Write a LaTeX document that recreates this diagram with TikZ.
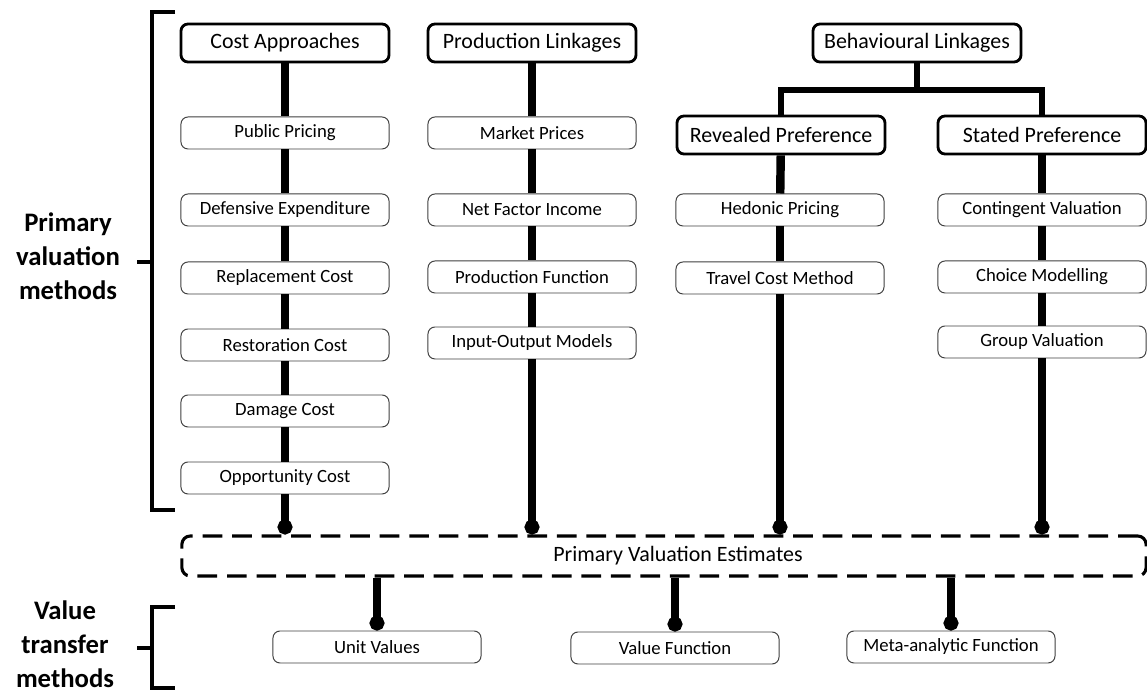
\documentclass[tikz,border=0pt]{standalone}
\usepackage{fontspec}
\setmainfont{Carlito}
\usetikzlibrary{arrows.meta}
\tikzset{
    HB/.style ={rectangle,rounded corners=5pt,minimum width=5.2cm,minimum height=0.95cm,draw,line width=2pt,fill=white,inner sep=0pt,font=\fontsize{15.6}{18}\selectfont},
    SB/.style ={rectangle,rounded corners=5pt,minimum width=5.2cm,minimum height=0.8cm,draw=black!75,line width=0.7pt,fill=white,inner sep=0pt,font=\fontsize{13.3}{16}\selectfont},
    DB/.style ={rectangle,rounded corners=6pt,minimum width=24.1cm,minimum height=1cm,draw,dash pattern=on 14pt off 7pt,line width=2.2pt,inner sep=0pt},
    LB/.style ={align=center,font=\bfseries\fontsize{19}{24}\selectfont},
    LN/.style ={line width=6pt},
    BL/.style ={line width=4pt},
    AR/.style ={line width=6pt,-{Circle[length=10.5pt]}},
    BR/.style ={line width=3.5pt}}

\begin{document}
\begin{tikzpicture}[x=0.025cm,y=-0.025cm]
        \useasboundingbox (0,0) rectangle (1147,694);
        \node[HB] (1) at(285,43){Cost Approaches};
        \node[HB] (2) at(532,43){Production Linkages};
        \node[HB] (3) at(917,43){Behavioural Linkages};
        \node[HB] (4) at(781,135){Revealed Preference};
        \node[HB] (5) at(1042,135){Stated Preference};
        \node[SB] (6) at(285,133){Public Pricing};
        \node[SB] (7) at(285,210){Defensive Expenditure};
        \node[SB] (8) at(285,278){Replacement Cost};
        \node[SB] (9) at(285,345){Restoration Cost};
        \node[SB] (10) at(285,411){Damage Cost};
        \node[SB] (11) at(285,478){Opportunity Cost};
        \node[SB] (12) at(532,133){Market Prices};
        \node[SB] (13) at(532,210){Net Factor Income};
        \node[SB] (14) at(532,277){Production Function};
        \node[SB] (15) at(532,343){Input-Output Models};
        \node[SB] (16) at(780,210){Hedonic Pricing};
        \node[SB] (17) at(780,278){Travel Cost Method};
        \node[SB] (18) at(1042,210){Contingent Valuation};
        \node[SB] (19) at(1042,277){Choice Modelling};
        \node[SB] (20) at(1042,342){Group Valuation};
        \node[DB] (21)[label={[xshift=0.35cm,font=\fontsize{15.6}{18}\selectfont]center:Primary Valuation Estimates}] at(664,556){};
        \node[SB] (22) at(377,647){Unit Values};
        \node[SB] (23) at(675,648){Value Function};
        \node[SB] (24) at(951,647){Meta-analytic Function};
        \node[LB] (25) at(68,256){Primary\\valuation\\methods};
        \node[LB] (26) at(65,644){Value\\transfer\\methods};
        \draw[LN] (1) --(6);
        \draw[LN] (6) --(7);
        \draw[LN] (7) --(8);
        \draw[LN] (8) --(9);
        \draw[LN] (9) --(10);
        \draw[LN] (10) --(11);
        \draw[AR] (11) --(11 |- 21.north);
        \draw[LN] (2) --(12);
        \draw[LN] (12) --(13);
        \draw[LN] (13) --(14);
        \draw[LN] (14) --(15);
        \draw[AR] (15) --(15 |- 21.north);
        \draw[BL] (3) --++(0,47) -|(4);
        \draw[BL] (3) --++(0,47) -|(5);
        \draw[LN] (4) --(16);
        \draw[LN] (16) --(17);
        \draw[AR] (17) --(17 |- 21.north);
        \draw[LN] (5) --(18);
        \draw[LN] (18) --(19);
        \draw[LN] (19) --(20);
        \draw[AR] (20) --(20 |- 21.north);
        \draw[AR] (22 |- 21.south) --(22);
        \draw[AR] (23 |- 21.south) --(23);
        \draw[AR] (24 |- 21.south) --(24);
        \draw[BR] (175,12) -|(152,510) --(175,510);
        \draw[BR] (152,262) --(137,262);
        \draw[BR] (175,607) -|(152,688) --(175,688);
        \draw[BR] (152,648) --(137,648);
    \end{tikzpicture}
\end{document}
